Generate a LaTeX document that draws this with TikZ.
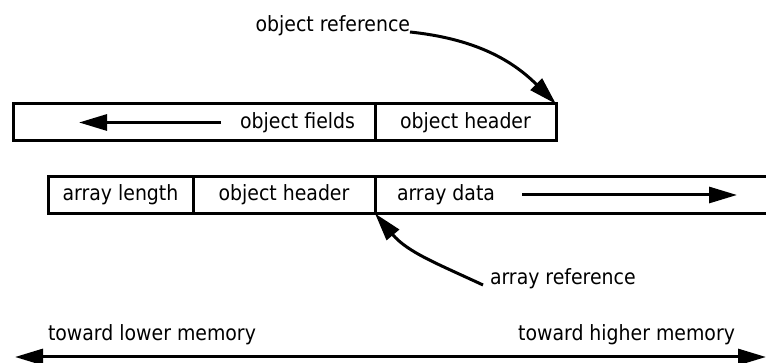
\documentclass[tikz,border=0pt]{standalone}
\usepackage{fontspec}
\setmainfont{DejaVu Sans Condensed}
\usetikzlibrary{arrows.meta}
\begin{document}
\begin{tikzpicture}[x=1pt,y=1pt,
  lbl/.style={font=\fontsize{21}{24}\selectfont, inner sep=0pt, outer sep=0pt},
  cell/.style={lbl, draw, line width=3pt, minimum height=37pt},
  tip/.tip={Triangle[length=28pt,width=16pt]},
  arr/.style={line width=3pt, -tip},
  line/.style={line width=3pt},
]
\useasboundingbox (0,0) rectangle (766,363);
% top row: object
\node[cell, minimum width=362pt] (fields) at (194,240.5) {};
\node[cell, minimum width=181pt] (ohead) at (465.5,240.5) {object header};
\node[lbl, anchor=east] (tfields) at (355,240.5) {object fields};
\coordinate (fieldsTip) at (79,240.5);
\draw[arr] ([xshift=-19pt]tfields.west) -- (fieldsTip);
% bottom row: array
\node[cell, minimum width=145pt] (alen) at (120.5,168) {array length};
\node[cell, minimum width=182pt] (ahead) at (284,168) {object header};
\coordinate (dataNE) at (770,186.5);
\coordinate (dataSE) at (770,149.5);
\draw[line] (ahead.north east) -- (dataNE);
\draw[line] (ahead.south east) -- (dataSE);
\node[lbl, anchor=west] (tdata) at (397,168) {array data};
\coordinate (dataTip) at (737,168);
\draw[arr] ([xshift=27pt]tdata.east) -- (dataTip);
% references
\node[lbl, anchor=base east] (oref) at (410,331) {object reference};
\draw[arr] (oref.base east) to[out=-6, in=135] (ohead.north east);
\node[lbl, anchor=west] (aref) at (490,84) {array reference};
\draw[arr] ([xshift=-7pt,yshift=-6pt]aref.west) to[out=155, in=-50] (ahead.south east);
% memory direction
\node[lbl, anchor=west] (lower) at (48,28) {toward lower memory};
\node[lbl, anchor=east] (higher) at (735,28) {toward higher memory};
\coordinate (memL) at (15,6);
\coordinate (memR) at (766,6);
\draw[line, tip-tip] (memL) -- (memR);
\end{tikzpicture}
\end{document}
